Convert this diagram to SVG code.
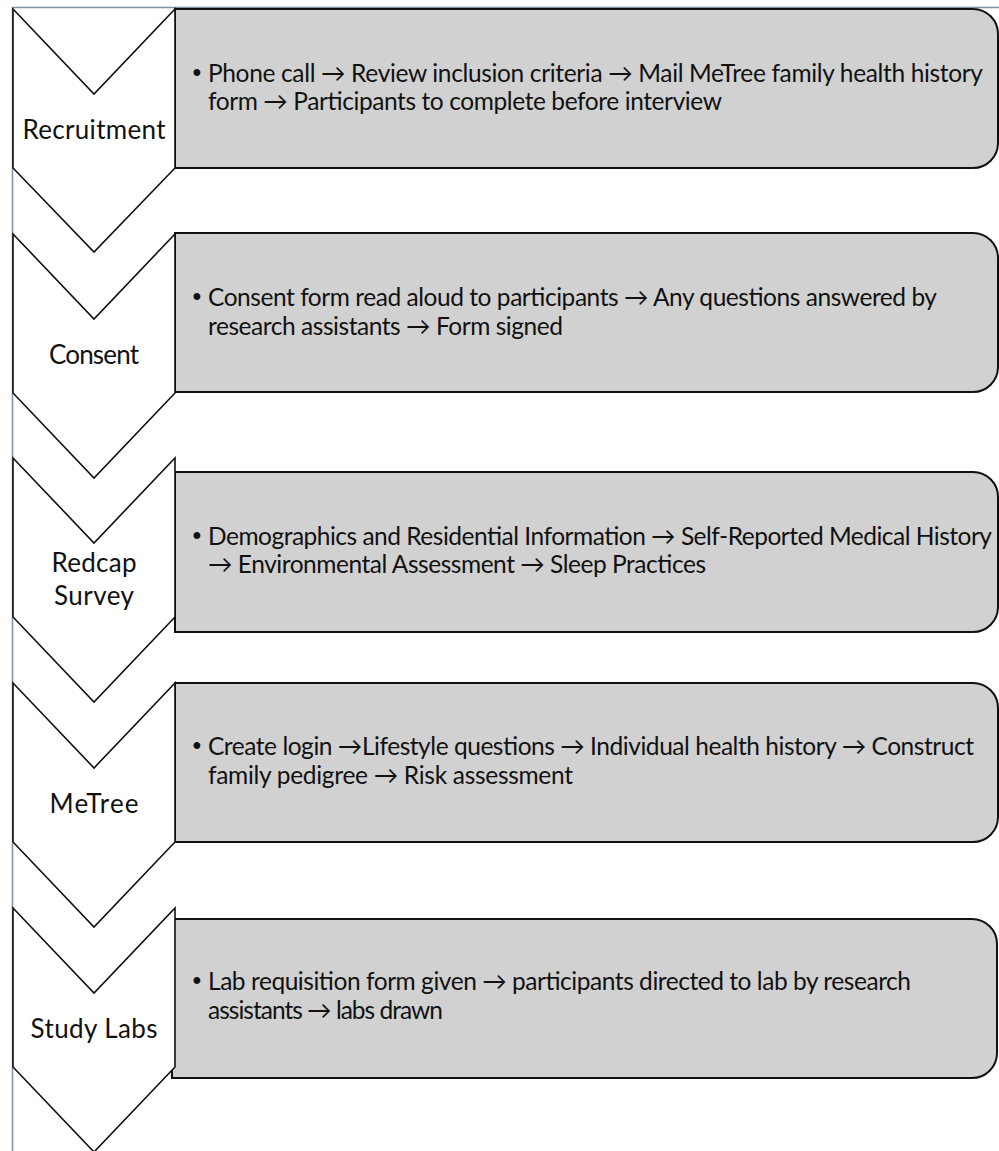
<svg xmlns="http://www.w3.org/2000/svg" width="999" height="1151" viewBox="0 0 999 1151">
<style>
.frame{fill:none;stroke:#7f90a8;stroke-width:1.5}
.chev{fill:#ffffff;stroke:#111111;stroke-width:1.6;stroke-linejoin:miter}
.box{fill:#d1d1d1;stroke:#111111;stroke-width:2}
.lbl{font-family:Lato,"Open Sans","Liberation Sans",sans-serif;font-size:26px;fill:#111111;text-anchor:middle}
.txt{font-family:Lato,"Open Sans","Liberation Sans",sans-serif;font-size:24.5px;fill:#111111}
.bul{font-family:"Liberation Sans",sans-serif;font-size:25px;fill:#111111;text-anchor:middle}
</style>
<rect width="999" height="1151" fill="#ffffff"/>
<path class="frame" d="M12.5,1151 V7.5 H999"/>

<g id="step1">
<path class="box" d="M175,9 H973 A25,25 0 0 1 998,34 V143 A25,25 0 0 1 973,168 H175 Z"/>
<polygon class="chev" points="13,9 94,94 175,9 175,168 94,252 13,168"/>
<text class="lbl" x="94" y="139" textLength="143">Recruitment</text>
<text class="bul" x="197" y="81">•</text>
<text class="txt" x="208" y="82" textLength="775">Phone call → Review inclusion criteria → Mail MeTree family health history</text>
<text class="txt" x="208" y="110" textLength="514">form → Participants to complete before interview</text>
</g>

<g id="step2">
<path class="box" d="M175,233 H973 A25,25 0 0 1 998,258 V367 A25,25 0 0 1 973,392 H175 Z"/>
<polygon class="chev" points="13,234 94,319 175,234 175,393 94,478 13,393"/>
<text class="lbl" x="94" y="364" textLength="90">Consent</text>
<text class="bul" x="197" y="305">•</text>
<text class="txt" x="208" y="306" textLength="729">Consent form read aloud to participants → Any questions answered by</text>
<text class="txt" x="208" y="335" textLength="355">research assistants → Form signed</text>
</g>

<g id="step3">
<path class="box" d="M175,472 H973 A25,25 0 0 1 998,497 V607 A25,25 0 0 1 973,632 H175 Z"/>
<polygon class="chev" points="13,458 94,543 175,458 175,617 94,702 13,617"/>
<text class="lbl" x="94" y="572" textLength="85">Redcap</text>
<text class="lbl" x="94" y="605" textLength="80">Survey</text>
<text class="bul" x="197" y="544">•</text>
<text class="txt" x="208" y="545" textLength="784">Demographics and Residential Information → Self-Reported Medical History</text>
<text class="txt" x="208" y="573" textLength="498">→ Environmental Assessment → Sleep Practices</text>
</g>

<g id="step4">
<path class="box" d="M175,683 H973 A25,25 0 0 1 998,708 V817 A25,25 0 0 1 973,842 H175 Z"/>
<polygon class="chev" points="13,683 94,768 175,683 175,842 94,927 13,842"/>
<text class="lbl" x="94" y="813" textLength="89">MeTree</text>
<text class="bul" x="197" y="754">•</text>
<text class="txt" x="208" y="755" textLength="766">Create login →Lifestyle questions → Individual health history → Construct</text>
<text class="txt" x="208" y="784" textLength="365">family pedigree → Risk assessment</text>
</g>

<g id="step5">
<path class="box" d="M172,919 H972 A25,25 0 0 1 997,944 V1053 A25,25 0 0 1 972,1078 H172 Z"/>
<polygon class="chev" points="13,908 94,993 175,908 175,1067 94,1152 13,1067"/>
<text class="lbl" x="94" y="1038" textLength="127">Study Labs</text>
<text class="bul" x="197" y="989">•</text>
<text class="txt" x="208" y="990" textLength="703">Lab requisition form given → participants directed to lab by research</text>
<text class="txt" x="208" y="1019" textLength="235">assistants → labs drawn</text>
</g>

<g id="connectors"></g>
</svg>
